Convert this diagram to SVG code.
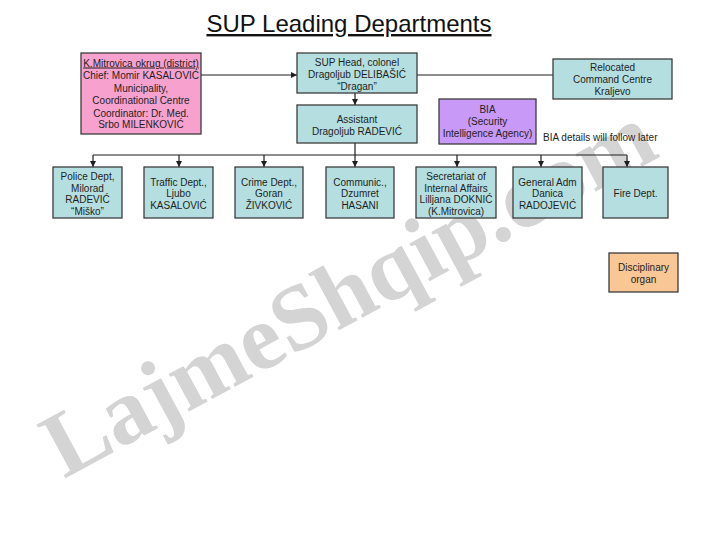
<svg xmlns="http://www.w3.org/2000/svg" width="720" height="540" viewBox="0 0 720 540">
<style>
.t{font-family:"Liberation Sans",Arial,sans-serif;font-size:10px;fill:#1e1e1e;text-anchor:middle}
.box{stroke:#3c3c3c;stroke-width:1.3}
.cy{fill:#B4DEDF}
.ln{stroke:#1e1e1e;stroke-width:1.2;fill:none}
.title{font-family:"Liberation Sans",Arial,sans-serif;font-size:24px;fill:#111;text-anchor:middle;text-decoration:underline}
.wm{font-family:"Liberation Serif","Times New Roman",serif;font-weight:bold;font-size:93px;fill:#d4d4d4}
</style>
<defs>
<marker id="ah" viewBox="0 0 8 8" refX="8" refY="4" markerWidth="6" markerHeight="6" markerUnits="userSpaceOnUse" orient="auto">
<path d="M0,0 L8,4 L0,8 z" fill="#1e1e1e"/>
</marker>
</defs>
<rect width="720" height="540" fill="#fff"/>
<text class="wm" x="64" y="479" transform="rotate(-28.4 64 479)">LajmeShqip.com</text>
<text class="title" x="349" y="32">SUP Leading Departments</text>

<g id="connectors">
<line class="ln" x1="201" y1="75" x2="297" y2="75" marker-end="url(#ah)"/>
<line class="ln" x1="417" y1="75" x2="553" y2="75"/>
<line class="ln" x1="355" y1="93" x2="355" y2="105" marker-end="url(#ah)"/>
<line class="ln" x1="355" y1="143" x2="355" y2="155"/>
<line class="ln" x1="93" y1="155" x2="627" y2="155"/>
<line class="ln" x1="93" y1="155" x2="93" y2="167" marker-end="url(#ah)"/>
<line class="ln" x1="179" y1="155" x2="179" y2="167" marker-end="url(#ah)"/>
<line class="ln" x1="264" y1="155" x2="264" y2="167" marker-end="url(#ah)"/>
<line class="ln" x1="355" y1="155" x2="355" y2="167" marker-end="url(#ah)"/>
<line class="ln" x1="457" y1="155" x2="457" y2="167" marker-end="url(#ah)"/>
<line class="ln" x1="541" y1="155" x2="541" y2="167" marker-end="url(#ah)"/>
<line class="ln" x1="627" y1="155" x2="627" y2="167" marker-end="url(#ah)"/>
</g>

<g id="district">
<rect class="box" x="81" y="53" width="120" height="81" fill="#F7A2CE"/>
<text class="t" x="141" y="66.5" style="text-decoration:underline">K.Mitrovica okrug (district)</text>
<text class="t" x="141" y="79">Chief: Momir KASALOVIĆ</text>
<text class="t" x="141" y="91.5">Municipality,</text>
<text class="t" x="141" y="104">Coordinational Centre</text>
<text class="t" x="141" y="116.5">Coordinator: Dr. Med.</text>
<text class="t" x="141" y="128">Srbo MILENKOVIĆ</text>
</g>

<g id="sup-head">
<rect class="box cy" x="297" y="53" width="120" height="40"/>
<text class="t" x="357" y="65.5">SUP Head, colonel</text>
<text class="t" x="357" y="77.5">Dragoljub DELIBAŠIĆ</text>
<text class="t" x="357" y="89.5">“Dragan”</text>
</g>

<g id="relocated">
<rect class="box cy" x="553" y="59" width="119" height="40"/>
<text class="t" x="612.5" y="70.5">Relocated</text>
<text class="t" x="612.5" y="83">Command Centre</text>
<text class="t" x="612.5" y="95">Kraljevo</text>
</g>

<g id="assistant">
<rect class="box cy" x="297" y="105" width="120" height="38"/>
<text class="t" x="357" y="122.5">Assistant</text>
<text class="t" x="357" y="134.5">Dragoljub RADEVIĆ</text>
</g>

<g id="bia">
<rect class="box" x="439" y="99" width="97" height="45" fill="#C899F6"/>
<text class="t" x="487.5" y="113">BIA</text>
<text class="t" x="487.5" y="125">(Security</text>
<text class="t" x="487.5" y="137">Intelligence Agency)</text>
</g>
<text class="t" x="543" y="140.5" style="text-anchor:start">BIA details will follow later</text>

<g id="police">
<rect class="box cy" x="53" y="167" width="69" height="51"/>
<text class="t" x="87.5" y="180">Police Dept,</text>
<text class="t" x="87.5" y="191.5">Milorad</text>
<text class="t" x="87.5" y="203">RADEVIĆ</text>
<text class="t" x="87.5" y="214.5">“Miško”</text>
</g>

<g id="traffic">
<rect class="box cy" x="144" y="167" width="69" height="51"/>
<text class="t" x="178.5" y="185.5">Traffic Dept.,</text>
<text class="t" x="178.5" y="197">Ljubo</text>
<text class="t" x="178.5" y="208.5">KASALOVIĆ</text>
</g>

<g id="crime">
<rect class="box cy" x="235" y="167" width="68" height="51"/>
<text class="t" x="269" y="185.5">Crime Dept.,</text>
<text class="t" x="269" y="197">Goran</text>
<text class="t" x="269" y="208.5">ŽIVKOVIĆ</text>
</g>

<g id="communic">
<rect class="box cy" x="326" y="167" width="68" height="51"/>
<text class="t" x="360" y="185.5">Communic.,</text>
<text class="t" x="360" y="197">Dzumret</text>
<text class="t" x="360" y="208.5">HASANI</text>
</g>

<g id="secretariat">
<rect class="box cy" x="416" y="167" width="80" height="51"/>
<text class="t" x="456" y="180">Secretariat of</text>
<text class="t" x="456" y="191.5">Internal Affairs</text>
<text class="t" x="456" y="203">Lilljana DOKNIĆ</text>
<text class="t" x="456" y="214.5">(K.Mitrovica)</text>
</g>

<g id="general">
<rect class="box cy" x="513" y="167" width="69" height="51"/>
<text class="t" x="547.5" y="185.5">General Adm</text>
<text class="t" x="547.5" y="197">Danica</text>
<text class="t" x="547.5" y="208.5">RADOJEVIĆ</text>
</g>

<g id="fire">
<rect class="box cy" x="603" y="167" width="65" height="51"/>
<text class="t" x="635.5" y="196.5">Fire Dept.</text>
</g>

<g id="disciplinary">
<rect class="box" x="609" y="253" width="69" height="39" fill="#F9C796"/>
<text class="t" x="643.5" y="270.5">Disciplinary</text>
<text class="t" x="643.5" y="282.5">organ</text>
</g>
</svg>
